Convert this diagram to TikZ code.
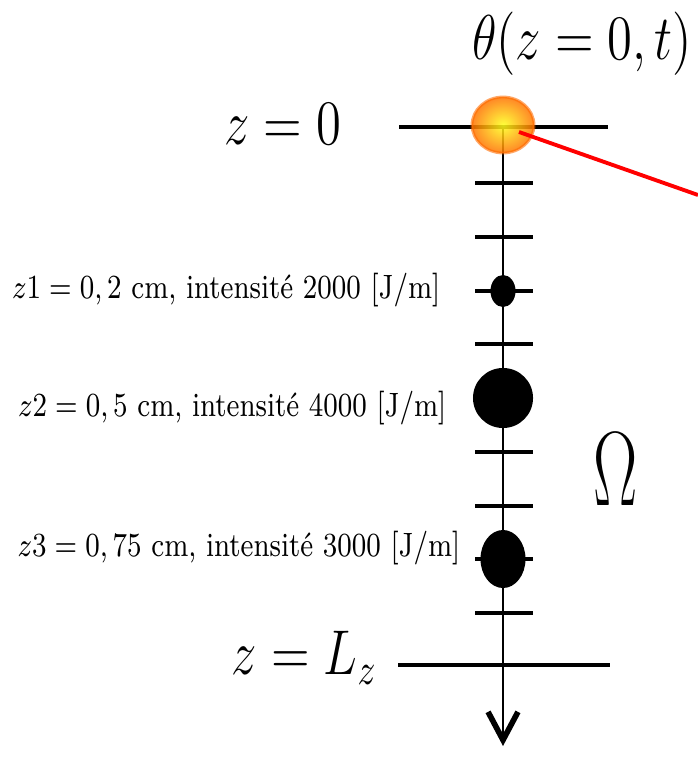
\documentclass[tikz,border=0pt]{standalone}
\usepackage{fontspec}
\usepackage{amsmath}
\usetikzlibrary{arrows.meta, shapes.geometric, calc}

% texte etire verticalement
\newcommand{\tallm}[2][1.25]{\scalebox{1}[#1]{#2}}

\begin{document}
\begin{tikzpicture}[x=0.01cm, y=-0.01cm,
  axe/.style={line width=0.6pt},
  niveau/.style={line width=0.9pt},
  graduation/.style={line width=0.9pt},
  source/.style={ellipse, fill=black, inner sep=0pt},
  grand/.style={font=\fontsize{14.4}{17}\selectfont, inner sep=0pt},
  etiquette/.style={font=\fontsize{8}{10}\selectfont, inner sep=0pt, anchor=east}]
  \useasboundingbox (0,0) rectangle (698,773);

  % Axe z
  \coordinate (haut) at (503,127);
  \coordinate (bas) at (503,746);
  \draw[axe, -{Straight Barb[length=8pt, width=8.5pt, line width=1.6pt]}] (haut) -- (bas);

  % Niveaux z=0 et z=L_z
  \coordinate (z0g) at (399,127);
  \coordinate (z0d) at (608,127);
  \coordinate (zLg) at (398,665);
  \coordinate (zLd) at (610,665);
  \draw[niveau] (z0g) -- (z0d);
  \draw[niveau] (zLg) -- (zLd);

  % Graduations
  \foreach \y in {183,237,291,344,452,506,559,613}
    \draw[graduation] (475,\y) -- (533,\y);

  % Sources
  \node[source, minimum width=0.25cm, minimum height=0.32cm] (s1) at (503,291) {};
  \node[source, minimum width=0.6cm, minimum height=0.6cm] (s2) at (503,398) {};
  \node[source, minimum width=0.45cm, minimum height=0.58cm] (s3) at (503,559) {};

  % Condition en z=0
  \node[ellipse, minimum width=0.62cm, minimum height=0.56cm,
    inner color=yellow!90!white, outer color=orange!90!red, fill opacity=0.85,
    draw=orange!85!red, draw opacity=0.6, line width=0.8pt] (balle) at (503,125) {};
  \coordinate (fin) at (698,195);
  \draw[red, line width=1.1pt] ($(balle.center)+(16,7)$) -- (fin);

  % Textes
  \node[grand] (theta) at (582,44) {\tallm{$\theta(z = 0, t)$}};
  \node[grand, anchor=east] (tz0) at (342,124) {\tallm{$z = 0$}};
  \node[grand, anchor=east] (tzL) at (378,658) {\tallm{$z = L_z$}};
  \node[font=\fontsize{17.28}{21}\selectfont, inner sep=0pt] (omega) at (616,469) {\scalebox{1.09}[1.74]{$\Omega$}};

  \node[etiquette] (l1) at (441,290) {\scalebox{0.97}[1.2]{$z1 = 0,2$ cm, intensité 2000 $[\mathrm{J/m}]$}};
  \node[etiquette] (l2) at (447,408) {\scalebox{0.97}[1.2]{$z2 = 0,5$ cm, intensité 4000 $[\mathrm{J/m}]$}};
  \node[etiquette] (l3) at (461,548) {\scalebox{0.97}[1.2]{$z3 = 0,75$ cm, intensité 3000 $[\mathrm{J/m}]$}};
\end{tikzpicture}
\end{document}
